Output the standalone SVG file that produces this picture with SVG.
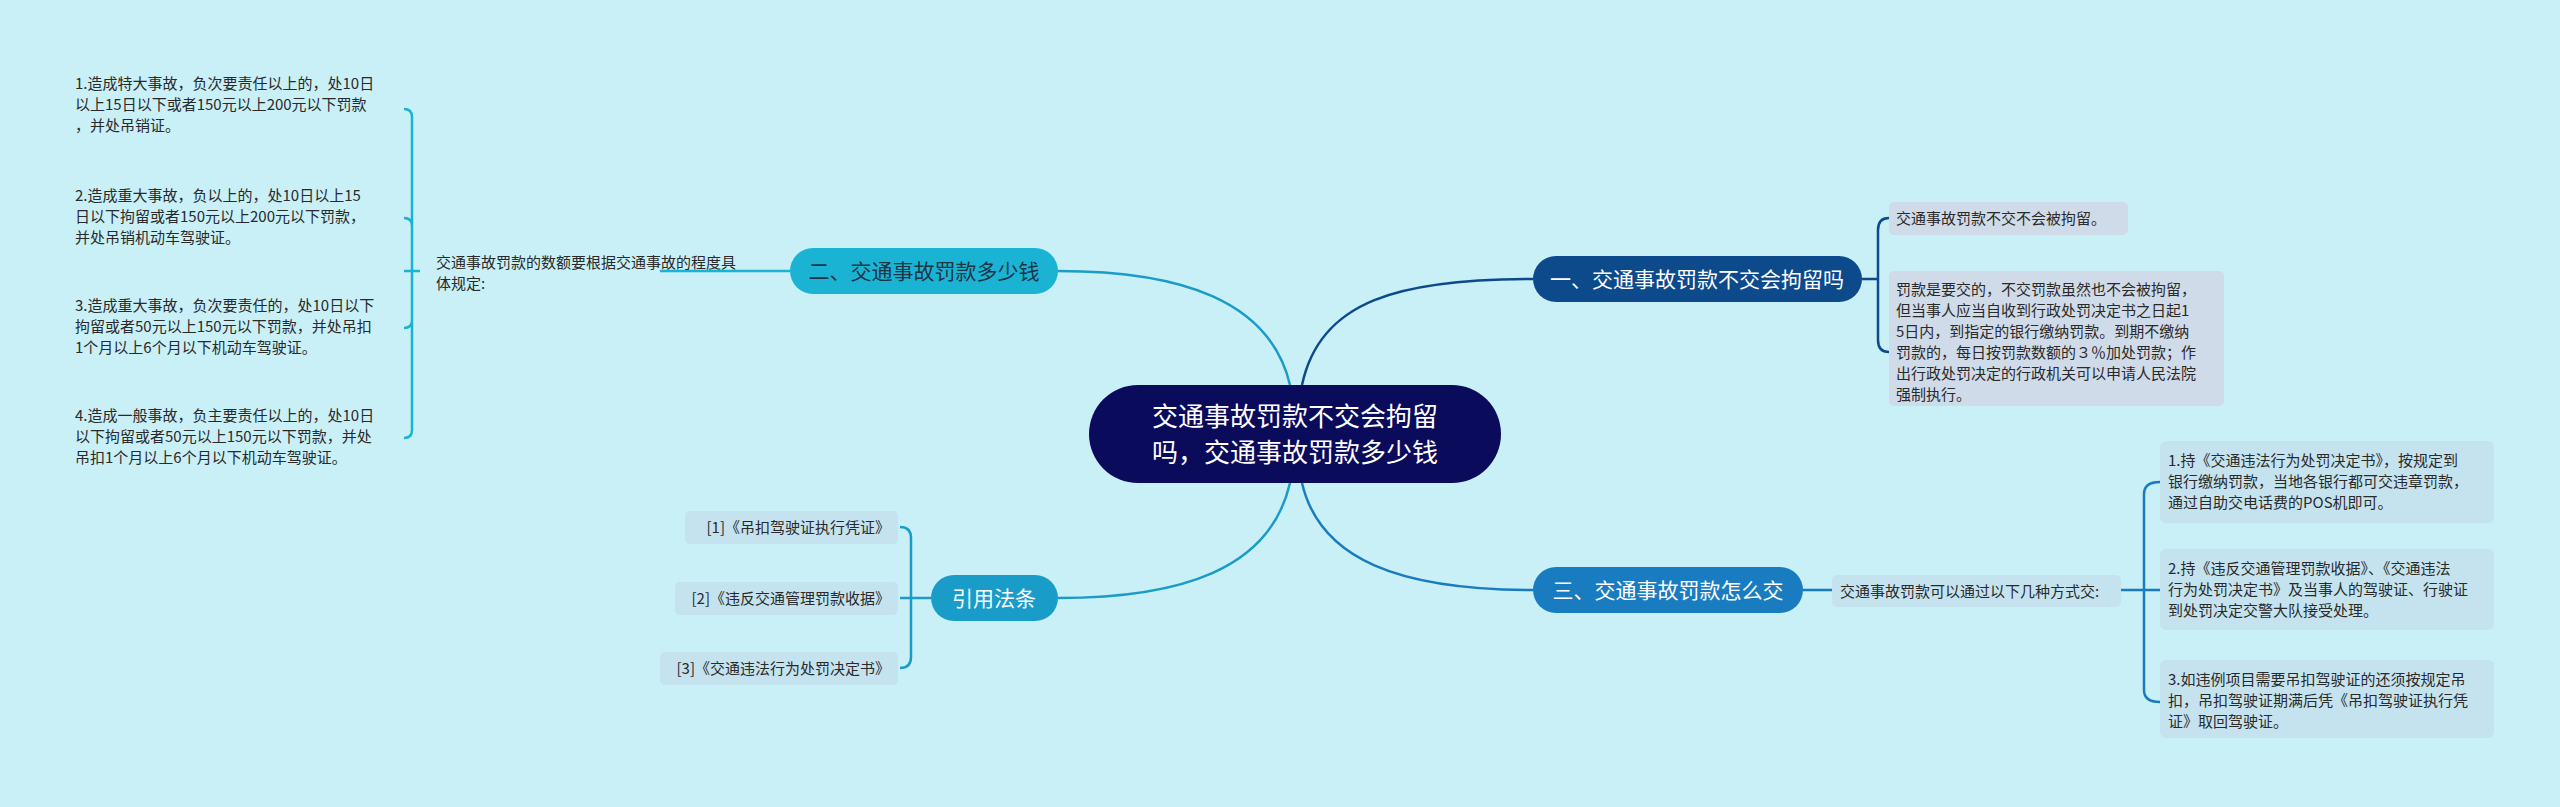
<svg xmlns="http://www.w3.org/2000/svg" width="2560" height="807" viewBox="0 0 2560 807">
<style>
text{font-family:"Noto Sans CJK SC","Liberation Sans",sans-serif}
.leaf{font-size:15px;fill:#2a2a2a}
.lbox{fill:#cfdbe9}
.rbox{fill:#c4e3ef}
.main{font-size:21px}
.c{fill:none;stroke-width:2.5}
</style>
<rect width="2560" height="807" fill="#c9eff7"/>
<g id="connectors">
<path class="c" stroke="#1a9cc9" d="M1290 385 C1270 300 1180 271 1058 271"/>
<path class="c" stroke="#0d4a8c" d="M1302 385 C1320 300 1400 279 1533 279"/>
<path class="c" stroke="#1a7cc0" d="M1302 483 C1320 560 1400 590 1533 590"/>
<path class="c" stroke="#1a9cc9" d="M1290 483 C1270 570 1180 598 1058 598"/>
<path class="c" stroke="#1ab3d4" d="M790 271 H660 M420 271 H412 M404 109 Q412 109 412 117 V430 Q412 438 404 438 M412 271 H404 M404 218 Q412 218 412 226 M404 328 Q412 328 412 320"/>
<path class="c" stroke="#0d4a8c" d="M1862 279 H1878 M1889 218 Q1878 218 1878 230 V340 Q1878 352 1889 352"/>
<path class="c" stroke="#1a7cc0" d="M1803 590 H1832 M2121 590 H2144 M2160 482 Q2144 482 2144 494 V690 Q2144 702 2160 702 M2144 590 H2160"/>
<path class="c" stroke="#1a9cc9" d="M931 598 H911 M900 527 Q911 527 911 538 V657 Q911 668 900 668 M911 598 H900"/>
</g>
<g id="center">
<rect x="1089" y="385" width="412" height="98" rx="49" fill="#0b0b5c"/>
<text x="1295" y="426" font-size="26" fill="#fff" text-anchor="middle">交通事故罚款不交会拘留</text>
<text x="1295" y="462" font-size="26" fill="#fff" text-anchor="middle">吗，交通事故罚款多少钱</text>
</g>
<g id="n1">
<rect x="1533" y="256" width="329" height="46" rx="23" fill="#0d4a8c"/>
<text class="main" x="1697" y="287" fill="#fff" text-anchor="middle">一、交通事故罚款不交会拘留吗</text>
</g>
<g id="n1a">
<rect class="lbox" x="1889" y="202" width="239" height="33" rx="5"/>
<text class="leaf" x="1896" y="224">交通事故罚款不交不会被拘留。</text>
</g>
<g id="n1b">
<rect class="lbox" x="1889" y="271" width="335" height="135" rx="5"/>
<text class="leaf" x="1896" y="295">罚款是要交的，不交罚款虽然也不会被拘留，</text>
<text class="leaf" x="1896" y="316">但当事人应当自收到行政处罚决定书之日起1</text>
<text class="leaf" x="1896" y="337">5日内，到指定的银行缴纳罚款。到期不缴纳</text>
<text class="leaf" x="1896" y="358">罚款的，每日按罚款数额的３％加处罚款；作</text>
<text class="leaf" x="1896" y="379">出行政处罚决定的行政机关可以申请人民法院</text>
<text class="leaf" x="1896" y="400">强制执行。</text>
</g>
<g id="n2">
<rect x="790" y="248" width="268" height="46" rx="23" fill="#1ab3d4"/>
<text class="main" x="924" y="279" fill="#1b3545" text-anchor="middle">二、交通事故罚款多少钱</text>
</g>
<g id="n2a">
<text class="leaf" x="436" y="268">交通事故罚款的数额要根据交通事故的程度具</text>
<text class="leaf" x="436" y="289">体规定:</text>
</g>
<g id="n2b">
<text class="leaf" x="75" y="89">1.造成特大事故，负次要责任以上的，处10日</text>
<text class="leaf" x="75" y="110">以上15日以下或者150元以上200元以下罚款</text>
<text class="leaf" x="75" y="131">，并处吊销证。</text>
</g>
<g id="n2c">
<text class="leaf" x="75" y="201">2.造成重大事故，负以上的，处10日以上15</text>
<text class="leaf" x="75" y="222">日以下拘留或者150元以上200元以下罚款，</text>
<text class="leaf" x="75" y="243">并处吊销机动车驾驶证。</text>
</g>
<g id="n2d">
<text class="leaf" x="75" y="311">3.造成重大事故，负次要责任的，处10日以下</text>
<text class="leaf" x="75" y="332">拘留或者50元以上150元以下罚款，并处吊扣</text>
<text class="leaf" x="75" y="353">1个月以上6个月以下机动车驾驶证。</text>
</g>
<g id="n2e">
<text class="leaf" x="75" y="421">4.造成一般事故，负主要责任以上的，处10日</text>
<text class="leaf" x="75" y="442">以下拘留或者50元以上150元以下罚款，并处</text>
<text class="leaf" x="75" y="463">吊扣1个月以上6个月以下机动车驾驶证。</text>
</g>
<g id="n3">
<rect x="1533" y="567" width="270" height="46" rx="23" fill="#1a7cc0"/>
<text class="main" x="1668" y="598" fill="#fff" text-anchor="middle">三、交通事故罚款怎么交</text>
</g>
<g id="n3a">
<rect class="rbox" x="1832" y="575" width="289" height="32" rx="5"/>
<text class="leaf" x="1840" y="597">交通事故罚款可以通过以下几种方式交:</text>
</g>
<g id="n3b">
<rect class="rbox" x="2160" y="441" width="334" height="82" rx="6"/>
<text class="leaf" x="2168" y="466">1.持《交通违法行为处罚决定书》，按规定到</text>
<text class="leaf" x="2168" y="487">银行缴纳罚款，当地各银行都可交违章罚款，</text>
<text class="leaf" x="2168" y="508">通过自助交电话费的POS机即可。</text>
</g>
<g id="n3c">
<rect class="rbox" x="2160" y="549" width="334" height="81" rx="6"/>
<text class="leaf" x="2168" y="574">2.持《违反交通管理罚款收据》、《交通违法</text>
<text class="leaf" x="2168" y="595">行为处罚决定书》及当事人的驾驶证、行驶证</text>
<text class="leaf" x="2168" y="616">到处罚决定交警大队接受处理。</text>
</g>
<g id="n3d">
<rect class="rbox" x="2160" y="660" width="334" height="78" rx="6"/>
<text class="leaf" x="2168" y="685">3.如违例项目需要吊扣驾驶证的还须按规定吊</text>
<text class="leaf" x="2168" y="706">扣，吊扣驾驶证期满后凭《吊扣驾驶证执行凭</text>
<text class="leaf" x="2168" y="727">证》取回驾驶证。</text>
</g>
<g id="n4">
<rect x="931" y="575" width="127" height="46" rx="23" fill="#1a9cc9"/>
<text class="main" x="994" y="606" fill="#fff" text-anchor="middle">引用法条</text>
</g>
<g id="r1"><rect class="rbox" x="685" y="511" width="213" height="33" rx="5"/><text class="leaf" x="890" y="533" text-anchor="end">[1]《吊扣驾驶证执行凭证》</text></g>
<g id="r2"><rect class="rbox" x="675" y="582" width="223" height="33" rx="5"/><text class="leaf" x="890" y="604" text-anchor="end">[2]《违反交通管理罚款收据》</text></g>
<g id="r3"><rect class="rbox" x="660" y="652" width="238" height="33" rx="5"/><text class="leaf" x="890" y="674" text-anchor="end">[3]《交通违法行为处罚决定书》</text></g>
</svg>
